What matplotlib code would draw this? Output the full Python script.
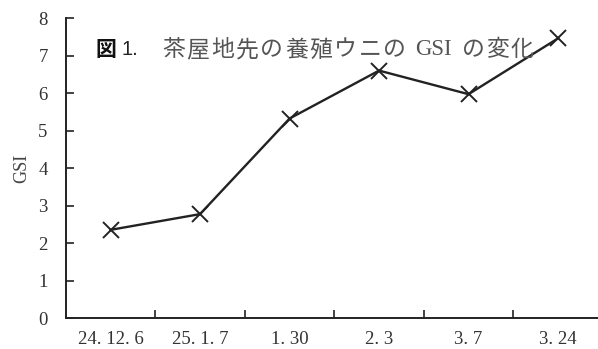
import matplotlib
matplotlib.use("Agg")
import matplotlib.pyplot as plt
import numpy as np

# sampling dates and gonad index of cultured sea urchins
dates = ["24. 12. 6", "25. 1. 7", "1. 30", "2. 3", "3. 7", "3. 24"]
gsi = [2.36, 2.78, 5.33, 6.61, 5.98, 7.47]
y_ticks = [0, 1, 2, 3, 4, 5, 6, 7, 8]
caption = ["茶", "屋", "地", "先", "の", "養", "殖", "ウ", "ニ", "の",
           "GSI", "の", "変", "化"]

plt.rcParams["font.family"] = ["Noto Sans CJK JP", "DejaVu Sans"]

fig = plt.figure(figsize=(5.98, 3.49), dpi=100)
ax = fig.add_axes([0.110, 0.088, 0.898, 0.859])

x = np.arange(len(dates))
ax.plot(x, gsi, color="#222222", lw=1.7, marker="x", markersize=12,
        markeredgewidth=1.4, clip_on=False)

ax.set_xlim(-0.5, len(dates) - 0.5)
ax.set_ylim(0, 8)
ax.set_yticks(y_ticks)
ax.set_yticklabels([str(v) for v in y_ticks], family="Liberation Serif",
                   fontsize=13.5, color="#333333")

# category boundaries carry the tick marks, labels sit in the middle
ax.set_xticks(x[:-1] + 0.5)
ax.set_xticklabels([])
ax.set_xticks(x, minor=True)
ax.set_xticklabels(dates, minor=True, family="Liberation Serif",
                   fontsize=13.5, color="#333333")
ax.tick_params(axis="x", which="minor", length=0, pad=9)
ax.tick_params(axis="x", which="major", direction="in", length=6, width=1.2,
               color="#222222")
ax.tick_params(axis="y", direction="in", length=6, width=1.2,
               color="#222222", pad=13)

for side in ["top", "right"]:
    ax.spines[side].set_visible(False)
for side in ["left", "bottom"]:
    ax.spines[side].set_linewidth(1.4)
    ax.spines[side].set_color("#222222")

ax.set_ylabel("GSI", family="Liberation Serif", fontsize=13, color="#444444",
              labelpad=6)

# figure caption inside the plot area, glyphs chained with a little tracking
cap_y = 0.895
prev = ax.text(0.055, cap_y, "図", transform=ax.transAxes, fontsize=15,
               fontweight="bold", color="#111111", va="center")
prev = ax.annotate("1.", xy=(1, cap_y), xycoords=(prev, "axes fraction"),
                   xytext=(4, 0), textcoords="offset points", va="center",
                   fontsize=14.5, color="#222222", family="Liberation Sans")
gap = 17
for i, tok in enumerate(caption):
    is_latin = tok == "GSI"
    if i > 0 and (is_latin or caption[i - 1] == "GSI"):
        gap = 7
    fam = ["Liberation Serif"] if is_latin else None
    prev = ax.annotate(tok, xy=(1, cap_y), xycoords=(prev, "axes fraction"),
                       xytext=(gap, 0), textcoords="offset points",
                       va="center", fontsize=16.5, color="#555555",
                       family=fam)
    gap = 1.2

fig.savefig("out.png", dpi=100)
